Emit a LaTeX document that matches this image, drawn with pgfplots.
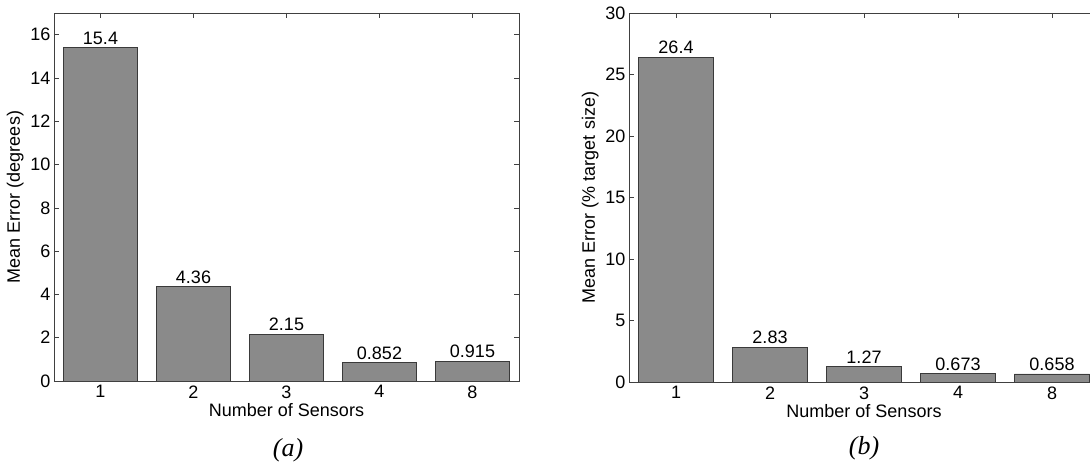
\documentclass[border=0pt]{standalone}
\usepackage{pgfplots}
\pgfplotsset{compat=1.18}
\usepackage{fontspec}
\setmainfont{Liberation Sans}
\newfontfamily\capfont{Liberation Serif}
\definecolor{barfill}{HTML}{8A8A8A}
\definecolor{baredge}{HTML}{3A3A3A}
\definecolor{axcol}{HTML}{404040}

\pgfplotstableread{
x y lab
1 15.4 15.4
2 4.36 4.36
3 2.15 2.15
4 0.852 0.852
5 0.915 0.915
}\dataA
\pgfplotstableread{
x y lab
1 26.4 26.4
2 2.83 2.83
3 1.27 1.27
4 0.673 0.673
5 0.658 0.658
}\dataB

\pgfplotsset{
  matlabbar/.style={
    scale only axis,
    anchor=south west,
    xmin=0.5, xmax=5.5,
    ymin=0,
    xtick={1,2,3,4,5},
    xticklabels={1,2,3,4,8},
    tick align=inside,
    major tick length=5pt,
    every tick/.style={axcol, line width=0.6pt},
    axis line style={axcol, line width=0.8pt},
    tick label style={font=\fontsize{18}{21}\selectfont},
    xticklabel style={yshift=-1pt},
    label style={font=\fontsize{18}{21}\selectfont},
    /pgf/number format/assume math mode=true,
    xlabel={Number of Sensors},
    xlabel style={yshift=2pt},
    nodes near coords,
    point meta=explicit symbolic,
    every node near coord/.style={font=\fontsize{18}{21}\selectfont, black, inner sep=3pt},
  },
  mybars/.style={ybar, bar width=0.8, fill=barfill, draw=baredge, line width=0.6pt},
}

\begin{document}
\begin{tikzpicture}
\useasboundingbox (0pt,0pt) rectangle (1090pt,468pt);
\clip (0pt,0pt) rectangle (1090pt,468pt);

\begin{axis}[matlabbar,
  at={(54pt,87pt)}, width=465pt, height=368pt,
  ymax=17, ytick={0,2,...,16},
  ylabel={Mean Error (degrees)},
]
\addplot[mybars] table[x=x, y=y, meta=lab] {\dataA};
\end{axis}

\begin{axis}[matlabbar,
  at={(629pt,86pt)}, width=470pt, height=369pt,
  ymax=30, ytick={0,5,...,30},
  ylabel={Mean Error (\% target size)},
]
\addplot[mybars] table[x=x, y=y, meta=lab] {\dataB};
\end{axis}

\node[font=\capfont\itshape\fontsize{26}{29}\selectfont] at (288pt,18pt) {(a)};
\node[font=\capfont\itshape\fontsize{26}{29}\selectfont] at (864pt,20pt) {(b)};
\end{tikzpicture}
\end{document}
